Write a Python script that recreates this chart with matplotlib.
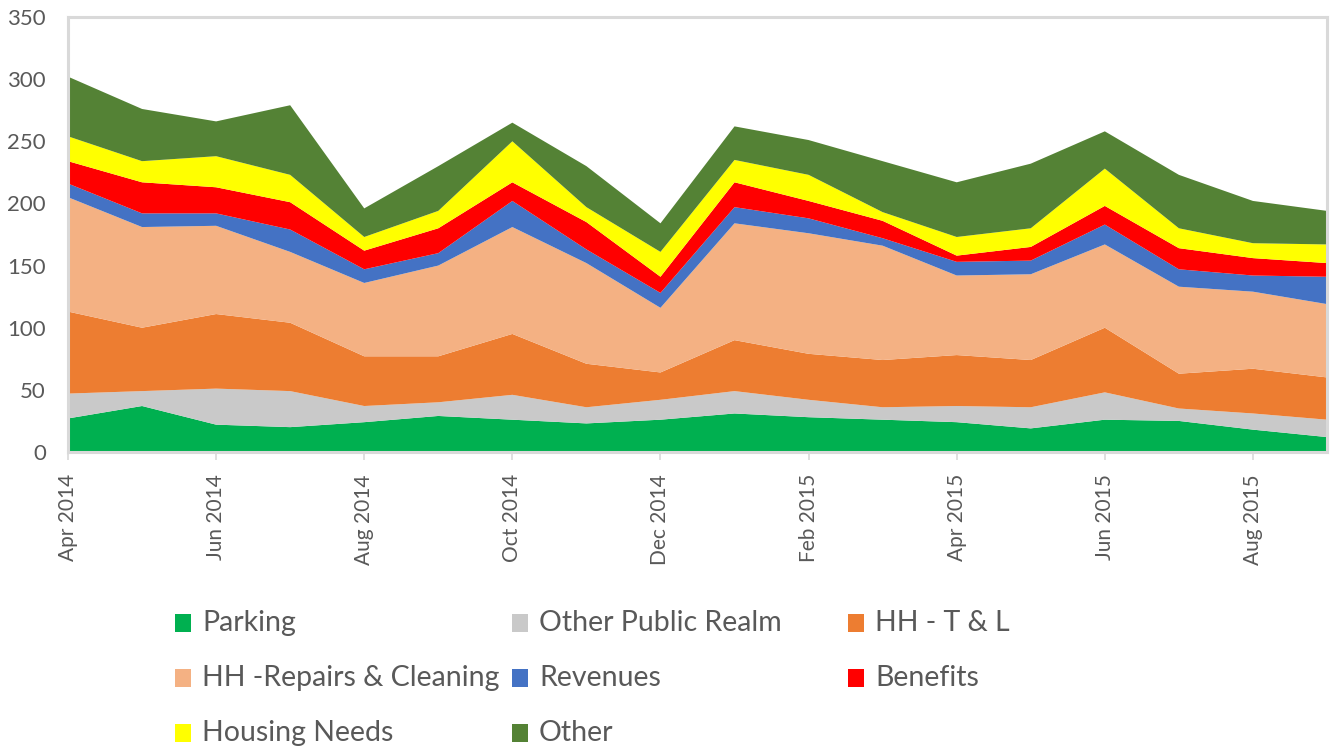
import matplotlib
matplotlib.use("Agg")
import matplotlib.pyplot as plt
from matplotlib.patches import Rectangle

months = ["Apr 2014", "May 2014", "Jun 2014", "Jul 2014", "Aug 2014", "Sep 2014",
          "Oct 2014", "Nov 2014", "Dec 2014", "Jan 2015", "Feb 2015", "Mar 2015",
          "Apr 2015", "May 2015", "Jun 2015", "Jul 2015", "Aug 2015", "Sep 2015"]

parking = [27, 37, 22, 20, 24, 29, 26, 23, 26, 31, 28, 26, 24, 19, 26, 25, 18, 12]
other_public_realm = [20, 12, 29, 29, 13, 11, 20, 13, 16, 18, 14, 10, 13, 17, 22, 10, 13, 14]
hh_tl = [66, 51, 60, 55, 40, 37, 49, 35, 22, 41, 37, 38, 41, 38, 52, 28, 36, 34]
hh_repairs = [92, 81, 71, 57, 59, 73, 86, 81, 52, 94, 97, 92, 64, 69, 67, 70, 62, 59]
revenues = [11, 11, 10, 18, 11, 10, 21, 11, 12, 13, 12, 6, 11, 11, 16, 14, 13, 22]
benefits = [18, 25, 21, 22, 15, 20, 15, 22, 13, 20, 14, 14, 5, 11, 15, 17, 14, 11]
housing_needs = [20, 17, 25, 22, 11, 14, 33, 12, 20, 18, 21, 7, 15, 15, 30, 16, 12, 15]
other = [48, 42, 28, 56, 23, 36, 15, 33, 23, 27, 28, 41, 44, 52, 30, 43, 34, 27]

series_names = ["Parking", "Other Public Realm", "HH - T & L", "HH -Repairs & Cleaning",
                "Revenues", "Benefits", "Housing Needs", "Other"]
series = [parking, other_public_realm, hh_tl, hh_repairs, revenues, benefits,
          housing_needs, other]
colors = ["#00B050", "#C9C9C9", "#ED7D31", "#F4B183", "#4472C4", "#FF0000",
          "#FFFF00", "#548235"]

plt.rcParams['font.family'] = ['Lato', 'DejaVu Sans']

W, H = 1334, 751
fig = plt.figure(figsize=(W / 100, H / 100), dpi=100)
L, R, T, B = 68, 1327, 17, 452
ax = fig.add_axes([L / W, (H - B) / H, (R - L) / W, (B - T) / H])

x = list(range(len(months)))
ax.stackplot(x, *series, colors=colors, linewidth=0, antialiased=True)

ax.set_xlim(0, len(months) - 1)
ax.set_ylim(0, 350)
ax.set_yticks(range(0, 351, 50))
ax.set_xticks(x[::2])
ax.set_xticklabels(months[::2], rotation=90, va='top', ha='center')

for s in ax.spines.values():
    s.set_color("#D9D9D9")
    s.set_linewidth(2.2)

ax.tick_params(axis='y', length=0, pad=16, labelsize=16, labelcolor="#595959")
ax.tick_params(axis='x', length=6, width=1.2, color="#D9D9D9", pad=10,
               labelsize=15, labelcolor="#595959", direction='out')

# legend drawn manually to mimic the fixed column grid
col_x = [175, 512, 848]
row_y = [623, 678, 733]
for i, (name, c) in enumerate(zip(series_names, colors)):
    r, col = divmod(i, 3)
    mx, my = col_x[col], row_y[r]
    fig.patches.append(Rectangle((mx / W, 1 - (my + 9) / H), 16 / W, 18 / H,
                                 transform=fig.transFigure, facecolor=c,
                                 edgecolor='none'))
    fig.text((mx + 27) / W, 1 - my / H, name, fontsize=20.5, color="#595959",
             va='center', ha='left')

fig.savefig("out.png", dpi=100, facecolor='white')
